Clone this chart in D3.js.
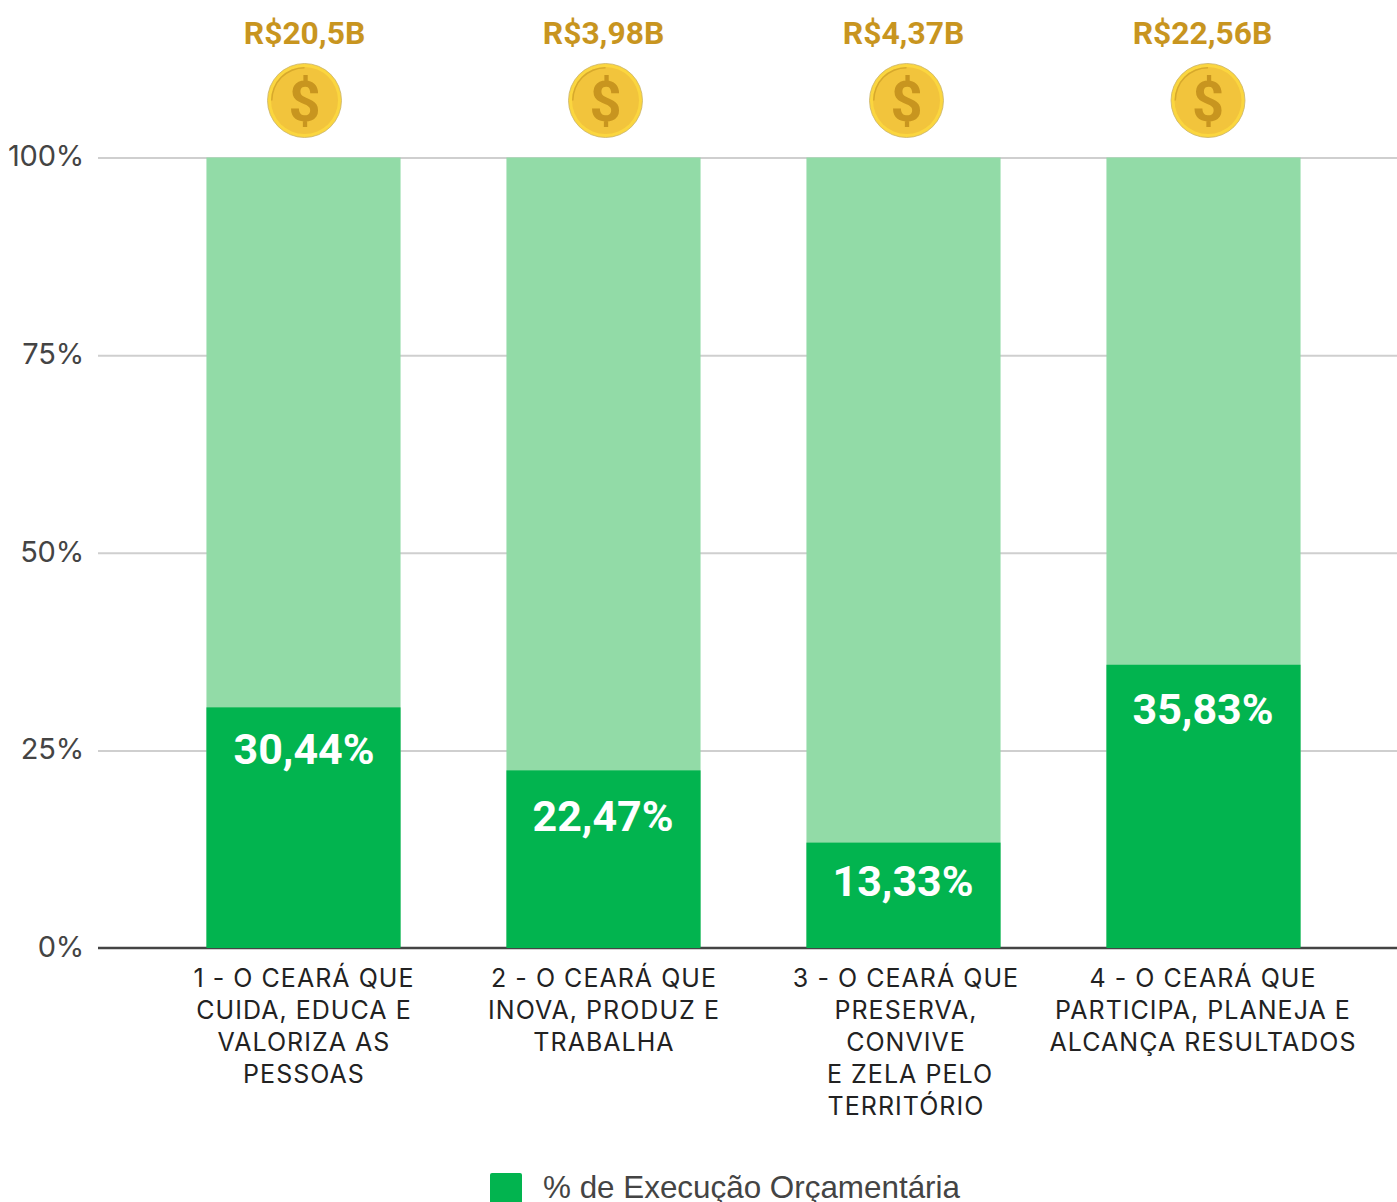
<!DOCTYPE html>
<html><head><meta charset="utf-8">
<script src="https://cdn.jsdelivr.net/npm/d3@7"></script>
<style>html,body{margin:0;padding:0;background:#fff;overflow:hidden}svg{display:block}</style>
</head><body><div id="c"></div>
<script>
const categories=[["1 - O CEARÁ QUE","CUIDA, EDUCA E","VALORIZA AS","PESSOAS"],["2 - O CEARÁ QUE","INOVA, PRODUZ E","TRABALHA"],["3 - O CEARÁ QUE","PRESERVA,","CONVIVE","\u00a0E ZELA PELO","TERRITÓRIO"],["4 - O CEARÁ QUE","PARTICIPA, PLANEJA E","ALCANÇA RESULTADOS"]];
const executed=[30.44,22.47,13.33,35.83];
const executedLabels=["30,44%","22,47%","13,33%","35,83%"];
const budgets=["R$20,5B","R$3,98B","R$4,37B","R$22,56B"];
const yTicks=[0,25,50,75,100];
const legendLabel="% de Execução Orçamentária";
const W=1397,H=1202;
const svg=d3.select("#c").append("svg").attr("width",W).attr("height",H);
const x=d3.scaleBand().domain(d3.range(4)).range([153.5,1353.5]).paddingInner(0.353).paddingOuter(0.1765);
const y=d3.scaleLinear().domain([0,100]).range([948,157.5]);
const cx=i=>x(i)+x.bandwidth()/2;
const yAxis=d3.axisLeft(y).tickValues(yTicks).tickFormat(d=>d+"%").tickSize(0).tickPadding(14);
const gy=svg.append("g").attr("transform","translate(98,0)").call(yAxis);
gy.select(".domain").remove();
gy.selectAll("text").attr("font-family","Inter, sans-serif").attr("font-size",29).attr("fill","#444").attr("dy","0.29em").attr("letter-spacing",-0.2);
gy.selectAll(".tick").filter(d=>d>0).append("line").attr("x1",0).attr("x2",W-98).attr("stroke","#cfcfcf").attr("stroke-width",2);
svg.selectAll("rect.bg").data(executed).join("rect").attr("class","bg")
 .attr("x",(d,i)=>x(i)).attr("width",x.bandwidth()).attr("y",y(100)).attr("height",y(0)-y(100)).attr("fill","#92dba7");
svg.selectAll("rect.fg").data(executed).join("rect").attr("class","fg")
 .attr("x",(d,i)=>x(i)).attr("width",x.bandwidth()).attr("y",d=>y(d)).attr("height",d=>y(0)-y(d)).attr("fill","#02b44f");
svg.append("line").attr("x1",98).attr("x2",W).attr("y1",y(0)).attr("y2",y(0)).attr("stroke","#444").attr("stroke-width",2.5);
svg.selectAll("rect.fg").raise();
const valueDy=[57,61,53,59];
svg.selectAll("text.val").data(executed).join("text").attr("class","val")
 .attr("x",(d,i)=>cx(i)+(i==0?0.5:-0.5)).attr("y",(d,i)=>y(d)+valueDy[i])
 .attr("text-anchor","middle").attr("font-family","Roboto, sans-serif").attr("font-weight",700).attr("font-size",43).attr("fill","#fff")
 .text((d,i)=>executedLabels[i]);
svg.selectAll("text.bud").data(budgets).join("text").attr("class","bud")
 .attr("x",(d,i)=>cx(i)+(i==0?1:(i==3?-1:0))).attr("y",44)
 .attr("text-anchor","middle").attr("font-family","Roboto, sans-serif").attr("font-weight",700).attr("font-size",31.8).attr("fill","#c8951f")
 .text(d=>d);
const coinOffset=[1,2,3,4.5];
const coins=svg.selectAll("g.coin").data(budgets).join("g").attr("class","coin")
 .attr("transform",(d,i)=>`translate(${cx(i)+coinOffset[i]},100.5)`);
coins.append("circle").attr("r",37).attr("fill","#fbd63f").attr("stroke","#c9b26a").attr("stroke-width",0.8);
coins.append("circle").attr("r",33.5).attr("fill","#f2c43c");
coins.append("path").attr("d","M0,-33.5A33.5,33.5 0 0,0 -33.5,0L-32,0A32,32 0 0,1 0,-32Z").attr("fill","#d7a92c");
coins.append("text").attr("y",20).attr("text-anchor","middle").attr("font-family","Roboto, sans-serif").attr("font-weight",700).attr("font-size",56).attr("fill","#c8951f").text("$");
const labelOffset=[0.5,0.5,2.5,-0.5];
const cat=svg.selectAll("text.cat").data(categories).join("text").attr("class","cat")
 .attr("text-anchor","middle").attr("font-family","Inter, sans-serif").attr("font-size",25).attr("letter-spacing",1.03).attr("fill","#222");
cat.each(function(lines,i){
  d3.select(this).selectAll("tspan").data(lines).join("tspan")
   .attr("x",cx(i)+labelOffset[i]).attr("y",(d,j)=>986.5+j*32).text(d=>d);
});
svg.append("rect").attr("x",490).attr("y",1173).attr("width",32).attr("height",32).attr("rx",2).attr("fill","#02b44f");
svg.append("text").attr("x",543).attr("y",1198).attr("font-family","'Liberation Sans', Arial, sans-serif").attr("font-size",31.4).attr("fill","#444").text(legendLabel);
</script></body></html>
